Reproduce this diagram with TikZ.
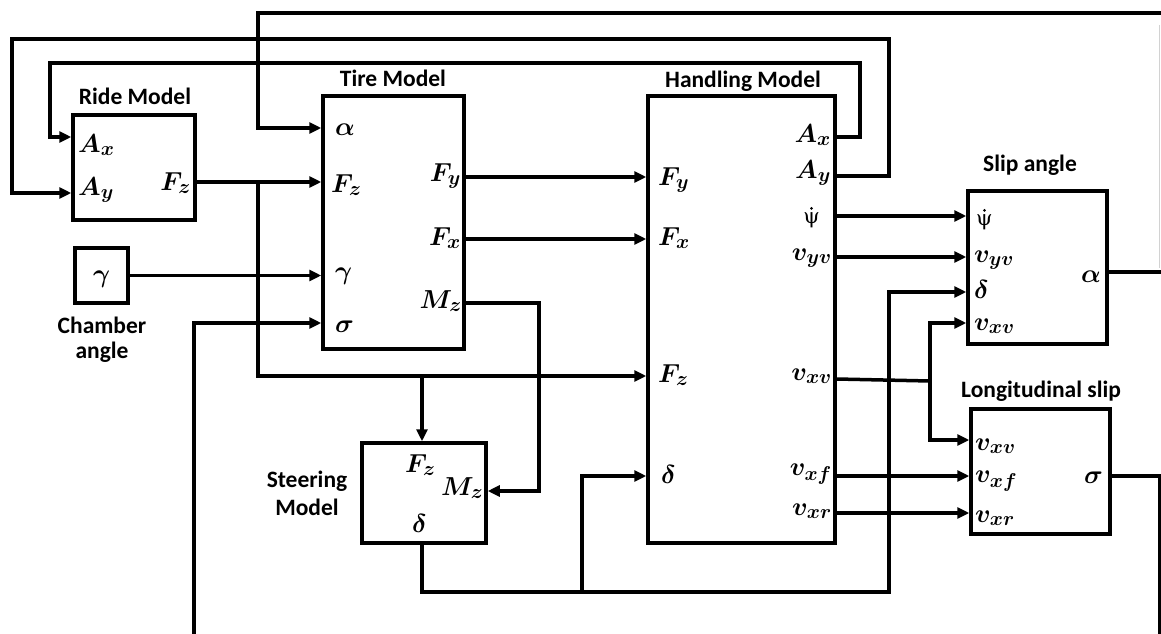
\documentclass[tikz,border=0pt]{standalone}
\usepackage{fontspec}
\usepackage{amsmath}
\DeclareFontShape{OML}{cmm}{m}{it}{<->cmmi10}{}
\DeclareFontShape{OML}{cmm}{b}{it}{<->cmmib10}{}
\DeclareFontShape{OT1}{cmr}{m}{n}{<->cmr10}{}
\DeclareFontShape{OT1}{cmr}{bx}{n}{<->cmbx10}{}
\DeclareMathSizes{26}{26}{20}{15}
\newfontfamily\labfont{Carlito}
\newfontfamily\dvs{DejaVu Serif}
\usetikzlibrary{arrows.meta}
\begin{document}
\begin{tikzpicture}[x=1pt,y=-1pt,
  box/.style={draw,line width=3.5pt,inner sep=0pt},
  ln/.style={line width=3.5pt},
  arr/.style={ln,-{Triangle[length=12pt,width=11pt]}},
  ttl/.style={font=\labfont\bfseries\fontsize{23.5}{25}\selectfont,inner sep=0pt,align=center},
  mth/.style={font=\fontsize{26}{30}\selectfont\boldmath,inner sep=0pt},
  psil/.style={font=\dvs\fontsize{21}{24}\selectfont,inner sep=0pt},
  psidot/.style={fill=black},
]
\useasboundingbox (0,0) rectangle (1161,634);

% ---- boxes ----
\node[box,minimum width=122pt,minimum height=105pt] (ride) at (134,167.5) {};
\node[box,minimum width=53pt,minimum height=55pt] (gam) at (101.5,275.5) {};
\node[box,minimum width=141pt,minimum height=253pt] (tire) at (393.5,222.5) {};
\node[box,minimum width=187pt,minimum height=447pt] (hand) at (741.5,319.5) {};
\node[box,minimum width=124pt,minimum height=100pt] (steer) at (424,493) {};
\node[box,minimum width=139pt,minimum height=153pt] (slip) at (1037.5,267.5) {};
\node[box,minimum width=139pt,minimum height=125pt] (long) at (1040.5,471.5) {};

% ---- titles ----
\node[ttl,anchor=base] (tRide) at (135,104) {Ride Model};
\node[ttl,anchor=base] (tTire) at (393,86) {Tire Model};
\node[ttl,anchor=base] (tHand) at (743,87) {Handling Model};
\node[ttl,anchor=base] (tSlip) at (1030,171) {Slip angle};
\node[ttl,anchor=base] (tLong) at (1041,397) {Longitudinal slip};
\node[ttl,anchor=base] (tCh1) at (102,333) {Chamber};
\node[ttl,anchor=base] (tCh2) at (102,358) {angle};
\node[ttl,anchor=base] (tSt1) at (307,487) {Steering};
\node[ttl,anchor=base] (tSt2) at (307,515) {Model};

% ---- ride labels ----
\node[mth,anchor=base west] (rAx) at (78,152) {$A_x$};
\node[mth,anchor=base west] (rAy) at (78,195) {$A_y$};
\node[mth,anchor=base east] (rFz) at (191,190) {$F_z$};
\node[mth] (gG) at (101.5,279) {$\gamma$};

% ---- tire labels ----
\node[mth,anchor=base west] (tAl) at (335,135) {$\alpha$};
\node[mth,anchor=base west] (tFz) at (331,192) {$F_z$};
\node[mth,anchor=base west] (tGa) at (335,279) {$\gamma$};
\node[mth,anchor=base west] (tSi) at (335,332) {$\sigma$};
\node[mth,anchor=base east] (tFy) at (461,181) {$F_y$};
\node[mth,anchor=base east] (tFx) at (461,245) {$F_x$};
\node[mth,anchor=base east] (tMz) at (462,308) {$M_z$};

% ---- handling labels ----
\node[mth,anchor=base west] (hFy) at (658,185) {$F_y$};
\node[mth,anchor=base west] (hFx) at (658,245) {$F_x$};
\node[mth,anchor=base west] (hFz) at (658,382) {$F_z$};
\node[mth,anchor=base west] (hDe) at (661,483) {$\delta$};
\node[mth,anchor=base east] (hAx) at (831,142) {$A_x$};
\node[mth,anchor=base east] (hAy) at (831,178) {$A_y$};
\node[psil,anchor=base east] (hPs) at (820,223) {ψ};
\node[mth,anchor=base east] (hVy) at (832,260) {$v_{yv}$};
\node[mth,anchor=base east] (hVx) at (832,380) {$v_{xv}$};
\node[mth,anchor=base east] (hVf) at (832,475) {$v_{xf}$};
\node[mth,anchor=base east] (hVr) at (832,515) {$v_{xr}$};

% ---- slip angle labels ----
\node[psil,anchor=base west] (sPs) at (976,225) {ψ};
\node[mth,anchor=base west] (sVy) at (974,262) {$v_{yv}$};
\node[mth,anchor=base west] (sDe) at (974,298) {$\delta$};
\node[mth,anchor=base west] (sVx) at (974,330) {$v_{xv}$};
\node[mth,anchor=base east] (sAl) at (1101,282) {$\alpha$};

% ---- longitudinal slip labels ----
\node[mth,anchor=base west] (lVx) at (975,450) {$v_{xv}$};
\node[mth,anchor=base west] (lVf) at (975,482) {$v_{xf}$};
\node[mth,anchor=base west] (lVr) at (975,522) {$v_{xr}$};
\node[mth,anchor=base east] (lSi) at (1103,483) {$\sigma$};

% ---- steering labels ----
\node[mth,anchor=base west] (stFz) at (405,472) {$F_z$};
\node[mth,anchor=base west] (stMz) at (441,495) {$M_z$};
\node[mth,anchor=base west] (stDe) at (412,532) {$\delta$};

% dots over psi
\fill[psidot] ([yshift=3.5pt]hPs.north) circle (1.5pt);
\fill[psidot] ([yshift=3.5pt]sPs.north) circle (1.5pt);

% ---- junctions and free ends ----
\coordinate (jF) at (258,182);
\coordinate (jS) at (422,376);
\coordinate (jD) at (582,592);
\coordinate (jV) at (930,381);
\coordinate (sigFree) at (194,634);
\coordinate (alFree) at (1161,13);
\coordinate (aOut) at (1161,272);
\coordinate (sOut) at (1160,634);

% ---- connectors ----
\draw[arr] (ride.east |- 0,182) -- (tire.west |- 0,182);
\draw[arr] (jF) -- (258,376) -- (hand.west |- 0,376);
\draw[arr] (jS) -- (jS |- steer.north);
\draw[arr] (gam.east) -- (tire.west |- gam.east);
\draw[arr] (sigFree) -- (194,323) -- (tire.west |- 0,323);
\draw[arr] (alFree) -- (258,13) -- (258,128) -- (tire.west |- 0,128);
\draw[arr] (hand.east |- 0,137) -- (860,137) -- (860,63) -- (50,63) -- (50,137) -- (ride.west |- 0,137);
\draw[arr] (hand.east |- 0,176) -- (889,176) -- (889,39) -- (12,39) -- (12,193) -- (ride.west |- 0,193);
\draw[arr] (tire.east |- 0,177) -- (hand.west |- 0,177);
\draw[arr] (tire.east |- 0,239) -- (hand.west |- 0,239);
\draw[arr] (tire.east |- 0,303) -- (539,303) -- (539,491) -- (steer.east |- 0,491);
\draw[arr] (steer.south -| jS) -- (422,592) -- (889,592) -- (889,292) -- (slip.west |- 0,292);
\draw[arr] (jD) -- (582,476) -- (hand.west |- 0,476);
\draw[arr] (hand.east |- 0,216) -- (slip.west |- 0,216);
\draw[arr] (hand.east |- 0,257) -- (slip.west |- 0,257);
\draw[ln] (hand.east |- 0,379) -- (jV);
\draw[arr] (jV) -- (930,323) -- (slip.west |- 0,323);
\draw[arr] (jV) -- (930,440) -- (long.west |- 0,440);
\draw[arr] (hand.east |- 0,476) -- (long.west |- 0,476);
\draw[arr] (hand.east |- 0,513) -- (long.west |- 0,513);
\draw[ln] (slip.east |- 0,272) -- (aOut);
\draw[ln] (long.east |- 0,476) -- (1160,476) -- (sOut);
\draw[gray!35,line width=1pt] (1159,25) -- (1159,268);
\end{tikzpicture}
\end{document}
